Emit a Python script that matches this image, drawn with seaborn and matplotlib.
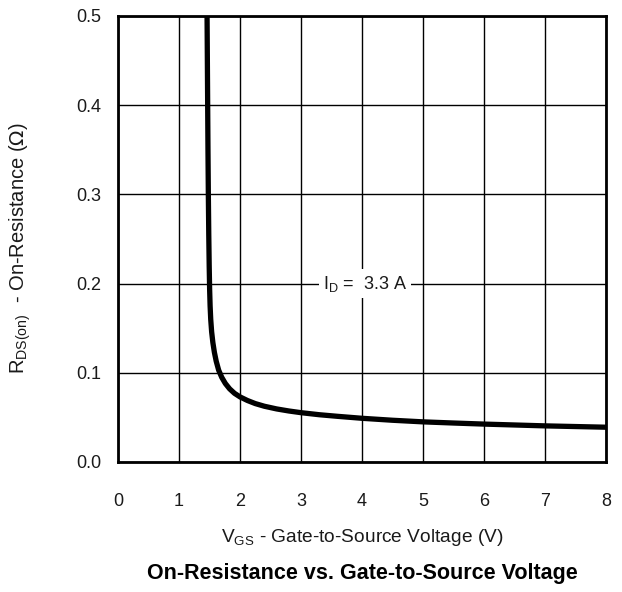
import matplotlib
matplotlib.use("Agg")
import matplotlib.pyplot as plt
import seaborn as sns
import pandas as pd

# On-resistance vs gate-to-source voltage, I_D = 3.3 A
vgs = [1.460, 1.465, 1.470, 1.475, 1.481, 1.488, 1.495, 1.502, 1.510, 1.520,
       1.535, 1.555, 1.580, 1.610, 1.650, 1.700, 1.760, 1.830, 1.910, 2.000,
       2.120, 2.250, 2.400, 2.600, 2.800, 3.000, 3.300, 3.600, 4.000, 4.500,
       5.000, 5.500, 6.000, 7.000, 8.000]
rds = [0.500, 0.450, 0.400, 0.350, 0.300, 0.255, 0.220, 0.194, 0.175, 0.160,
       0.146, 0.134, 0.123, 0.113, 0.103, 0.095, 0.088, 0.082, 0.077, 0.073,
       0.069, 0.0655, 0.0625, 0.0595, 0.0572, 0.0553, 0.0530, 0.0512, 0.0490, 0.0468,
       0.0450, 0.0437, 0.0425, 0.0405, 0.0390]
x_ticks = [0, 1, 2, 3, 4, 5, 6, 7, 8]
y_ticks = [0.0, 0.1, 0.2, 0.3, 0.4, 0.5]
id_label = "3.3 A"

sns.set_theme(style="white")
plt.rcParams["font.family"] = ["Liberation Sans", "DejaVu Sans"]

df = pd.DataFrame({"VGS": vgs, "RDS": rds})

fig = plt.figure(figsize=(6.22, 5.92), dpi=100)
ax = fig.add_axes([118 / 622, 1 - 462 / 592, 488 / 622, 446 / 592])

sns.lineplot(data=df, x="VGS", y="RDS", ax=ax, color="black", linewidth=3.8,
             solid_capstyle="butt", solid_joinstyle="round", zorder=3)

ax.set_xlim(0, 8)
ax.set_ylim(0, 0.5)
ax.set_xticks(x_ticks)
ax.set_yticks(y_ticks)
ax.set_xticklabels([str(t) for t in x_ticks])
ax.set_yticklabels([f"{t:.1f}" for t in y_ticks])
ax.grid(True, color="black", linewidth=1.0)
ax.set_axisbelow(True)
for s in ax.spines.values():
    s.set_color("black")
    s.set_linewidth(2)
ax.tick_params(axis="both", length=0, labelsize=13, colors="#1a1a1a")
ax.tick_params(axis="x", pad=22)
ax.tick_params(axis="y", pad=12)

ax.set_xlabel("")
ax.set_ylabel("")

ax.text(4.05, 0.2, r"I$_\mathregular{D}$ =  " + id_label, ha="center", va="center",
        fontsize=13, color="#1a1a1a", zorder=4,
        bbox=dict(facecolor="white", edgecolor="none", pad=3))

fig.text((118 + 606) / 2 / 622, 1 - 537 / 592,
         r"V$_\mathregular{GS}$ - Gate-to-Source Voltage (V)",
         ha="center", va="center", fontsize=13.8, color="#1a1a1a")
fig.text(20 / 622, 1 - 248 / 592,
         r"R$_\mathregular{DS(on)}$  - On-Resistance ($\Omega$)",
         ha="center", va="center", rotation=90, fontsize=14.5, color="#1a1a1a")
fig.text((118 + 606) / 2 / 622, 1 - 574 / 592,
         "On-Resistance vs. Gate-to-Source Voltage",
         ha="center", va="center", fontsize=15.5, fontweight="bold", color="black")

fig.savefig("out.png", dpi=100, facecolor="white")
